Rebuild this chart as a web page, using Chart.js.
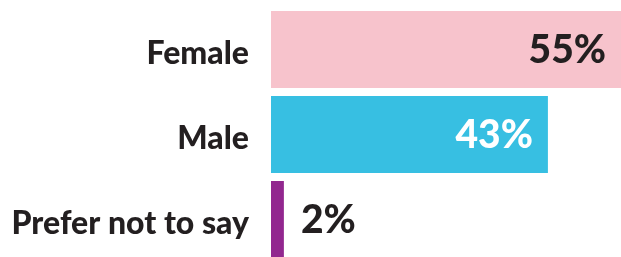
<!DOCTYPE html>
<html>
<head>
<meta charset="utf-8">
<script src="https://cdn.jsdelivr.net/npm/chart.js@4"></script>
<style>
  html, body { margin: 0; padding: 0; background: #fff; overflow: hidden; }
  #wrap { width: 621px; height: 262px; }
</style>
</head>
<body>
<div id="wrap"><canvas id="barChart"></canvas></div>
<script>
const categories = ['Female', 'Male', 'Prefer not to say']
const shares = [55, 43, 2]
const barColors = ['#f7c3cc', '#37bfe2', '#92278f']
const valueColors = ['#231f20', '#ffffff', '#231f20']

// writes the percentage inside the bar end, or just after it when the bar is too short
const valueLabels = {
    id: 'valueLabels',
    afterDatasetsDraw(chart) {
        const ctx = chart.ctx
        const area = chart.chartArea
        const meta = chart.getDatasetMeta(0)
        ctx.save()
        ctx.font = '900 39px Lato, "Liberation Sans", sans-serif'
        ctx.textBaseline = 'middle'
        meta.data.forEach(function (bar, i) {
            const text = shares[i] + '%'
            const end = Math.min(bar.x, area.right)
            const w = ctx.measureText(text).width
            ctx.fillStyle = valueColors[i]
            if (end - bar.base > w + 30) {
                ctx.textAlign = 'right'
                ctx.fillText(text, end - 15, bar.y + 1)
            } else {
                ctx.textAlign = 'left'
                ctx.fillText(text, end + 17, bar.y + 1)
            }
        })
        ctx.restore()
    }
}

new Chart(document.getElementById('barChart'), {
    type: 'bar',
    data: {
        labels: categories,
        datasets: [{
            data: shares,
            backgroundColor: barColors,
            borderWidth: 0,
            categoryPercentage: 1,
            barPercentage: 0.906
        }]
    },
    options: {
        indexAxis: 'y',
        responsive: true,
        maintainAspectRatio: false,
        animation: false,
        layout: { padding: { top: 7, left: 0, right: 0, bottom: 0 } },
        plugins: {
            legend: { display: false },
            tooltip: { enabled: false }
        },
        scales: {
            x: {
                display: false,
                min: 0,
                max: 54.35
            },
            y: {
                afterFit: function (axis) {
                    axis.width = 271
                    axis.paddingTop = 0
                    axis.paddingBottom = 0
                },
                grid: { display: false, drawTicks: false },
                border: { display: false },
                ticks: {
                    padding: 22,
                    labelOffset: 4,
                    color: '#231f20',
                    font: { family: 'Lato, "Liberation Sans", sans-serif', weight: '900', size: 32 }
                }
            }
        }
    },
    plugins: [valueLabels]
})
</script>
</body>
</html>
